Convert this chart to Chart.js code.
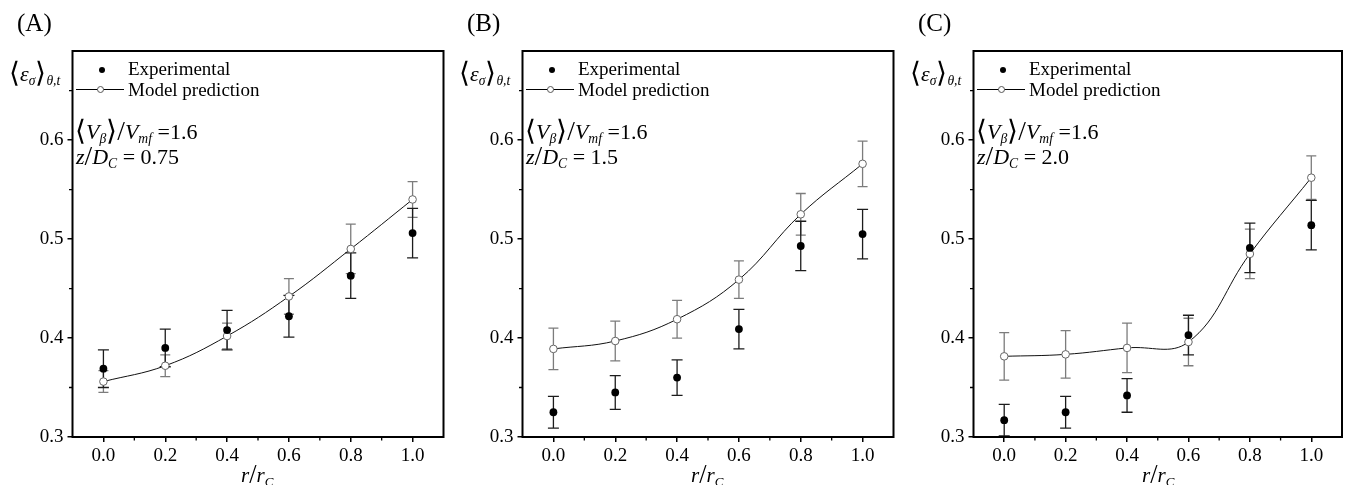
<!DOCTYPE html>
<html><head><meta charset="utf-8">
<script src="https://cdn.jsdelivr.net/npm/chart.js@4/dist/chart.umd.min.js"></script>
<style>
html,body{margin:0;padding:0;background:#fff}
body{width:1347px;height:485px;overflow:hidden;position:relative;font-family:'Liberation Serif','Times New Roman',serif;color:#000}
.panel{position:absolute;top:0;height:485px}
canvas{position:absolute;left:0;top:0}
.t{position:absolute;white-space:nowrap;line-height:1}
.it{font-style:italic}
.sb{font-size:0.62em;position:relative;top:0.3em}
.br{font-size:1.25em;position:relative;top:0.05em}
</style></head>
<body>
<script>
// ---- data ----
const rValues = [0.0, 0.2, 0.4, 0.6, 0.8, 1.0];
const xTickValues = [0.0, 0.2, 0.4, 0.6, 0.8, 1.0];
const xMinorValues = [0.1, 0.3, 0.5, 0.7, 0.9];
const yTickValues = [0.3, 0.4, 0.5, 0.6];
const yMinorValues = [0.35, 0.45, 0.55, 0.65];

const panelLabels = ['(A)', '(B)', '(C)'];
const zValues = ['0.75', '1.5', '2.0'];

const expA    = [0.369, 0.390, 0.408, 0.422, 0.463, 0.506];
const expErrA = [0.019, 0.019, 0.020, 0.021, 0.023, 0.025];
const modA    = [0.356, 0.372, 0.402, 0.442, 0.490, 0.540];
const modErrA = [0.011, 0.011, 0.013, 0.018, 0.025, 0.018];

const expB    = [0.325, 0.345, 0.360, 0.409, 0.493, 0.505];
const expErrB = [0.016, 0.017, 0.018, 0.020, 0.025, 0.025];
const modB    = [0.389, 0.397, 0.419, 0.459, 0.525, 0.576];
const modErrB = [0.021, 0.020, 0.019, 0.019, 0.021, 0.023];

const expC    = [0.317, 0.325, 0.342, 0.403, 0.491, 0.514];
const expErrC = [0.016, 0.016, 0.017, 0.020, 0.025, 0.025];
const modC    = [0.3815, 0.3835, 0.390, 0.396, 0.485, 0.562];
const modErrC = [0.024, 0.024, 0.025, 0.024, 0.025, 0.022];

// ---- layout ----
const panelLefts = [0, 450, 901];
const panelWidths = [449, 449, 446];
const plotRights = [443.5, 443.5, 444];
const FONT = "'Liberation Serif','Times New Roman',serif";

const errorBarPlugin = {
  id: 'errorBars',
  beforeDatasetsDraw(chart) {
    const ctx = chart.ctx, xs = chart.scales.x, ys = chart.scales.y;
    chart.data.datasets.forEach(ds => {
      ctx.save();
      ctx.strokeStyle = ds.errColor;
      ctx.lineWidth = 1.3;
      ds.data.forEach((p, i) => {
        const px = xs.getPixelForValue(p.x);
        const top = ys.getPixelForValue(p.y + ds.errs[i]);
        const bot = ys.getPixelForValue(p.y - ds.errs[i]);
        const c = ds.capHalf;
        ctx.beginPath();
        ctx.moveTo(px, top); ctx.lineTo(px, bot);
        ctx.moveTo(px - c, top); ctx.lineTo(px + c, top);
        ctx.moveTo(px - c, bot); ctx.lineTo(px + c, bot);
        ctx.stroke();
      });
      ctx.restore();
    });
  }
};

const framePlugin = {
  id: 'frame',
  afterDraw(chart) {
    const ctx = chart.ctx, a = chart.chartArea, xs = chart.scales.x, ys = chart.scales.y;
    ctx.save();
    ctx.strokeStyle = '#000';
    ctx.lineWidth = 1.3;
    ctx.beginPath();
    yMinorValues.forEach(v => {
      const py = ys.getPixelForValue(v);
      ctx.moveTo(a.left - 3.5, py); ctx.lineTo(a.left, py);
    });
    xMinorValues.forEach(v => {
      const px = xs.getPixelForValue(v);
      ctx.moveTo(px, a.bottom); ctx.lineTo(px, a.bottom + 3.5);
    });
    ctx.stroke();
    ctx.lineWidth = 2;
    ctx.strokeRect(a.left, a.top, a.right - a.left, a.bottom - a.top);
    ctx.restore();
  }
};

function addText(panel, left, top, size, html) {
  const d = document.createElement('div');
  d.className = 't';
  d.style.left = left + 'px';
  d.style.top = top + 'px';
  d.style.fontSize = size + 'px';
  d.innerHTML = html;
  panel.appendChild(d);
  return d;
}
function addBox(panel, left, top, w, h, css) {
  const d = document.createElement('div');
  d.style.cssText = 'position:absolute;left:' + left + 'px;top:' + top + 'px;width:' + w + 'px;height:' + h + 'px;' + css;
  panel.appendChild(d);
}

function makePanel(k, exp, expErr, mod, modErr) {
  const panel = document.createElement('div');
  panel.className = 'panel';
  panel.style.left = panelLefts[k] + 'px';
  panel.style.width = panelWidths[k] + 'px';
  document.body.appendChild(panel);
  const cv = document.createElement('canvas');
  cv.width = panelWidths[k]; cv.height = 485;
  cv.style.width = panelWidths[k] + 'px'; cv.style.height = '485px';
  panel.appendChild(cv);

  new Chart(cv, {
    type: 'scatter',
    data: {
      datasets: [
        { label: 'Model prediction', data: rValues.map((x, i) => ({ x, y: mod[i] })),
          errs: modErr, errColor: '#7c7c7c', capHalf: 5,
          showLine: true, borderColor: '#111', borderWidth: 1, tension: 0.4,
          pointRadius: 3.8, pointBackgroundColor: '#fff', pointBorderColor: '#666', pointBorderWidth: 1, order: 2 },
        { label: 'Experimental', data: rValues.map((x, i) => ({ x, y: exp[i] })),
          errs: expErr, errColor: '#1c1c1c', capHalf: 5.5,
          showLine: false, pointRadius: 3.9, pointBackgroundColor: '#000', pointBorderColor: '#000', pointBorderWidth: 0, order: 1 }
      ]
    },
    options: {
      responsive: false, animation: false, devicePixelRatio: 1,
      layout: { padding: { left: 0, top: 51, right: panelWidths[k] - plotRights[k], bottom: 0 } },
      plugins: { legend: { display: false }, tooltip: { enabled: false } },
      scales: {
        x: {
          type: 'linear', min: -0.1, max: 1.1,
          afterBuildTicks: s => { s.ticks = xTickValues.map(v => ({ value: v })); },
          afterFit: s => { s.height = 48; },
          grid: { display: true, drawOnChartArea: false, drawTicks: true, tickLength: 5, color: '#000', lineWidth: 1.5 },
          border: { display: false },
          ticks: { color: '#000', font: { family: FONT, size: 19 }, padding: 3, maxRotation: 0, autoSkip: false,
                   callback: v => Number(v).toFixed(1) }
        },
        y: {
          type: 'linear', min: 0.3, max: 0.69,
          afterBuildTicks: s => { s.ticks = yTickValues.map(v => ({ value: v })); },
          afterFit: s => { s.width = 72.5; },
          grid: { display: true, drawOnChartArea: false, drawTicks: true, tickLength: 5, color: '#000', lineWidth: 1.5 },
          border: { display: false },
          ticks: { color: '#000', font: { family: FONT, size: 19 }, padding: 4, autoSkip: false,
                   callback: v => Number(v).toFixed(1) }
        }
      }
    },
    plugins: [errorBarPlugin, framePlugin]
  });

  // panel label
  addText(panel, 17, 10, 25, panelLabels[k]);
  // y-axis label
  addText(panel, 9, 58, 22, '<span class="br">⟨</span><span class="it">ε</span><span class="sb it">σ</span><span class="br">⟩</span><span class="sb it">θ,t</span>');
  // legend
  addBox(panel, 99, 67, 6, 6, 'background:#000;border-radius:50%');
  addText(panel, 128, 59, 19, 'Experimental');
  addBox(panel, 76, 89, 48, 1, 'background:#000');
  addBox(panel, 97, 86, 5, 5, 'background:#fff;border:1px solid #555;border-radius:50%');
  addText(panel, 128, 80, 19, 'Model prediction');
  // annotations
  addText(panel, 75, 116, 22, '<span class="br">⟨</span><span class="it">V</span><span class="sb it">β</span><span class="br">⟩</span><span class="br">/</span><span class="it">V</span><span class="sb it">mf</span> =1.6');
  addText(panel, 76, 141, 22, '<span class="it">z</span><span class="br">/</span><span class="it">D</span><span class="sb it">C</span> = ' + zValues[k]);
  // x-axis title
  addText(panel, 241, 461, 21, '<span class="it">r</span><span class="br">/</span><span class="it">r</span><span class="sb it">C</span>');
}

makePanel(0, expA, expErrA, modA, modErrA);
makePanel(1, expB, expErrB, modB, modErrB);
makePanel(2, expC, expErrC, modC, modErrC);
</script>
</body></html>
